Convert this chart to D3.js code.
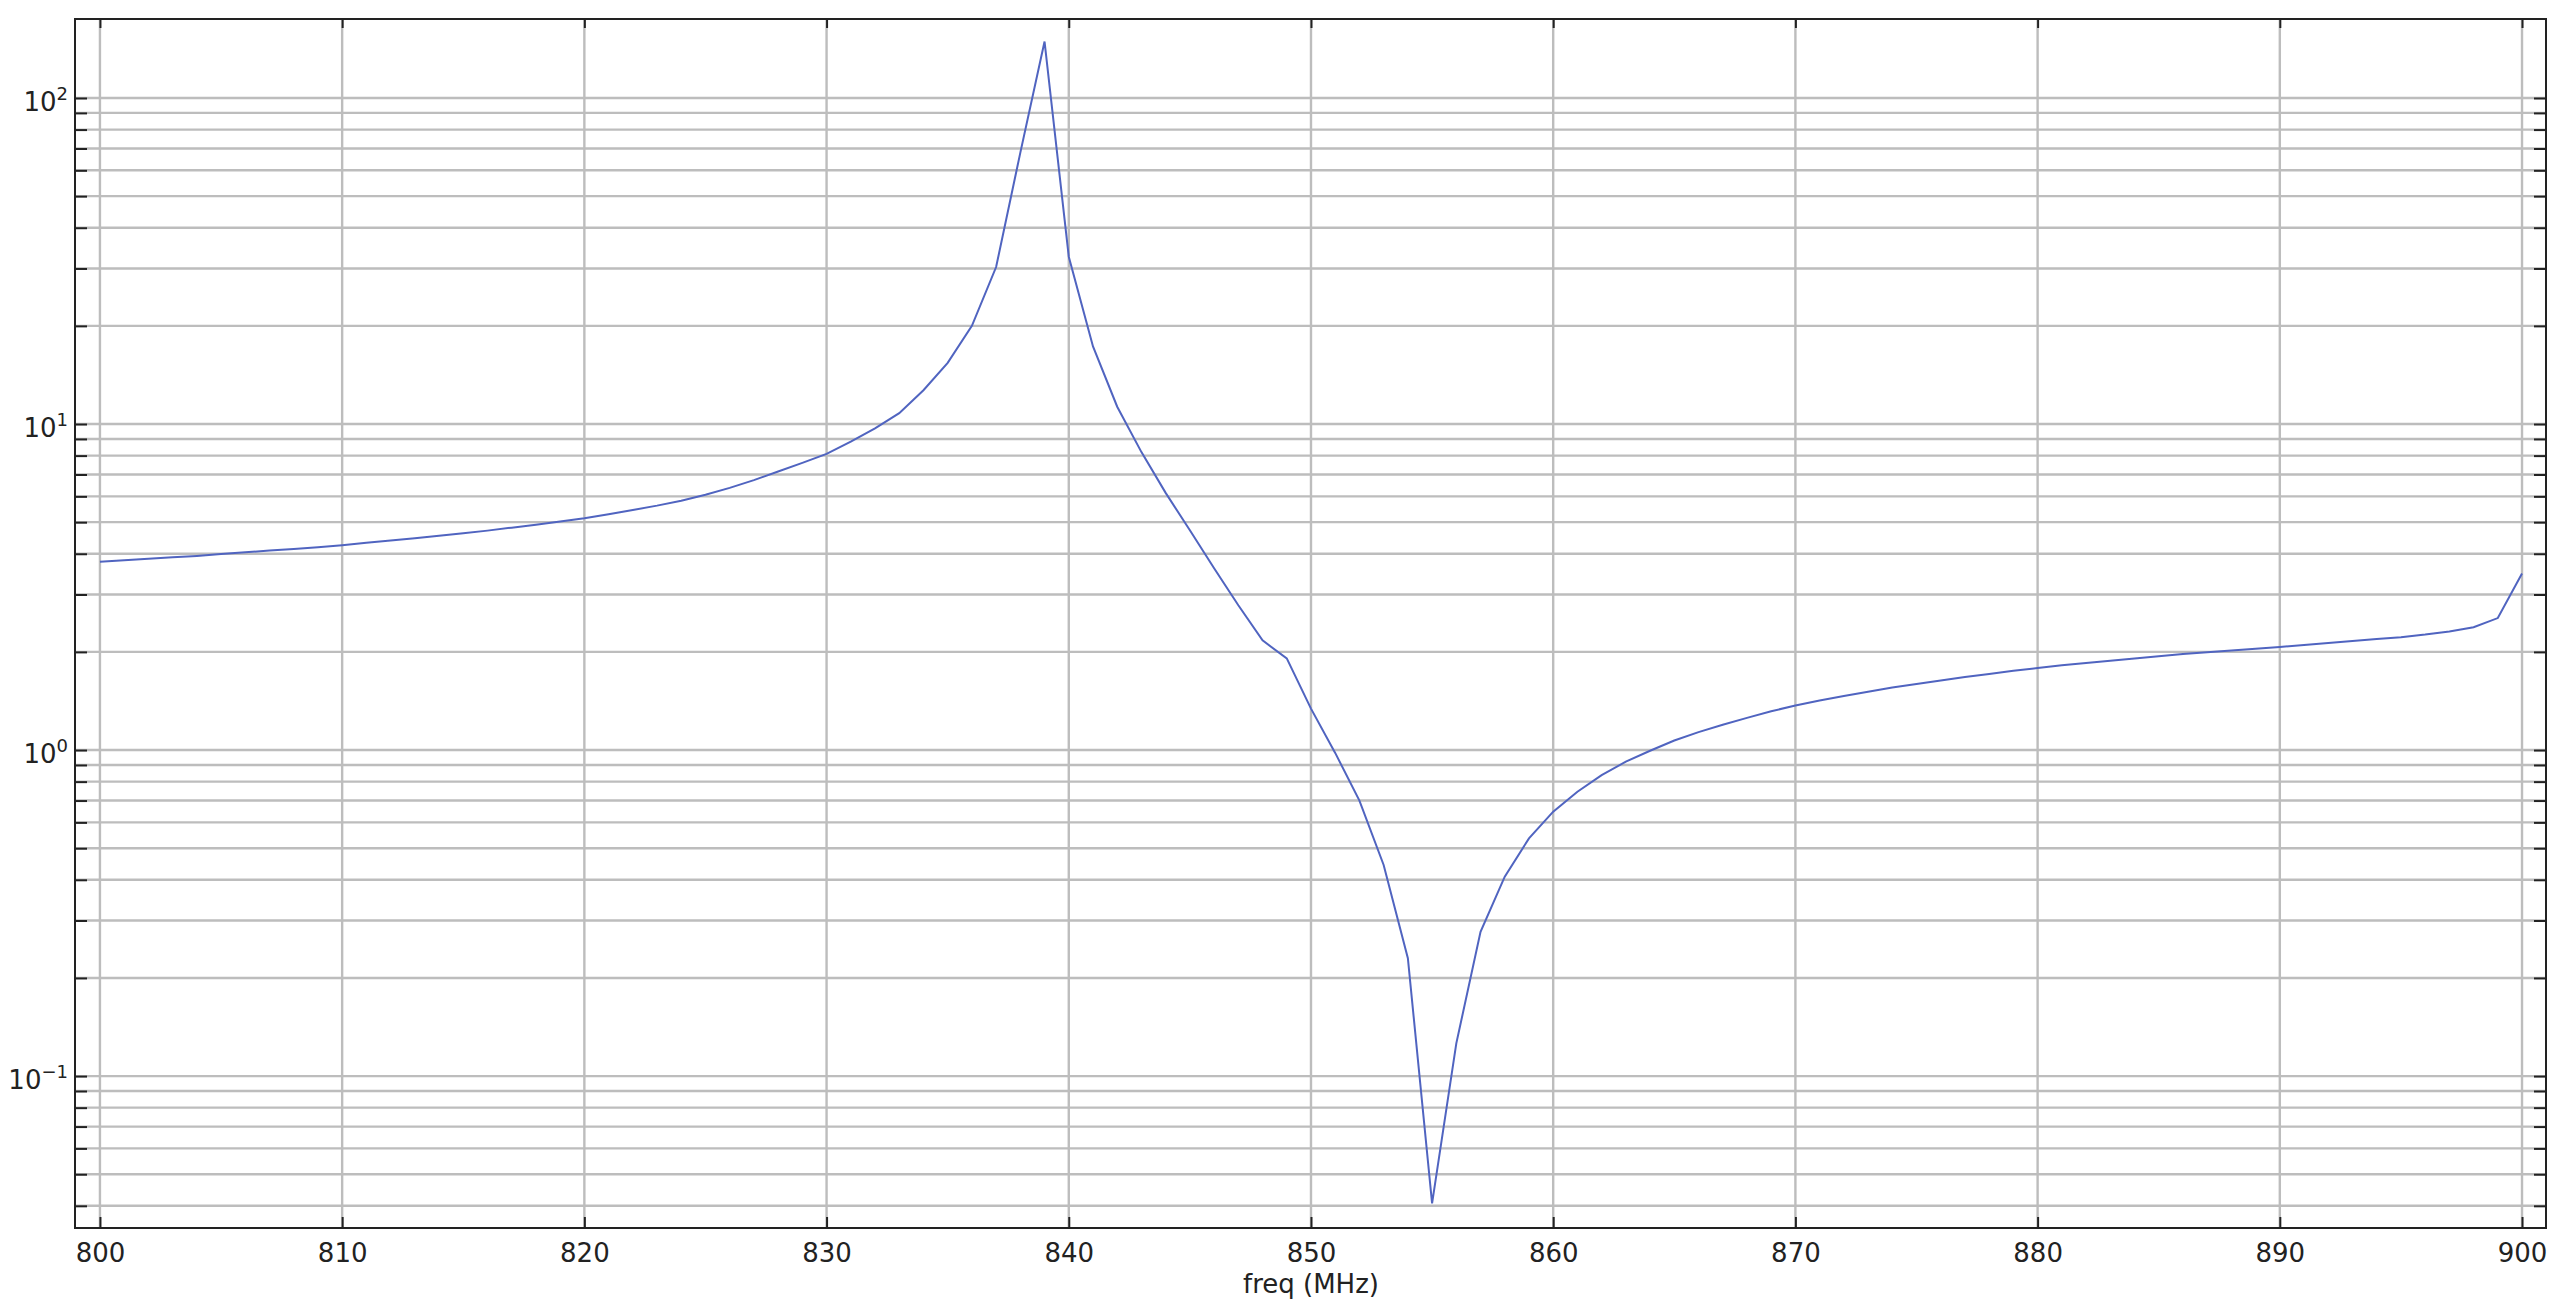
<!DOCTYPE html>
<html>
<head>
<meta charset="utf-8">
<script src="https://cdn.jsdelivr.net/npm/d3@7"></script>
<style>
  body { margin: 0; background: #fff; }
  text { font-family: "DejaVu Sans", sans-serif; fill: #222; }
</style>
</head>
<body>
<div id="chart"></div>
<script>
// frequency sweep (MHz) and response values
var freq = d3.range(800, 901, 1);
var values = [
  3.78, 3.82, 3.86, 3.90, 3.94, 3.99, 4.04, 4.09, 4.14, 4.19,
  4.25, 4.32, 4.39, 4.46, 4.54, 4.62, 4.71, 4.81, 4.91, 5.02,
  5.14, 5.29, 5.45, 5.62, 5.82, 6.07, 6.37, 6.73, 7.15, 7.60,
  8.10, 8.83, 9.70, 10.8, 12.7, 15.4, 20.0, 30.3, 68.0, 149,
  32.6, 17.3, 11.3, 8.20, 6.15, 4.72, 3.61, 2.78, 2.17, 1.91,
  1.34, 0.98, 0.70, 0.444, 0.23, 0.0407, 0.126, 0.277, 0.409, 0.536,
  0.647, 0.745, 0.838, 0.921, 0.995, 1.07, 1.135, 1.195, 1.255, 1.315,
  1.37, 1.42, 1.465, 1.51, 1.555, 1.595, 1.635, 1.675, 1.71, 1.75,
  1.785, 1.82, 1.85, 1.88, 1.91, 1.94, 1.97, 1.995, 2.02, 2.045,
  2.07, 2.10, 2.13, 2.16, 2.19, 2.22, 2.26, 2.31, 2.38, 2.54,
  3.48
];
var xTicks = [800, 810, 820, 830, 840, 850, 860, 870, 880, 890, 900];
var yMajor = [0.1, 1, 10, 100];
var yMinor = [0.04, 0.05, 0.06, 0.07, 0.08, 0.09,
  0.2, 0.3, 0.4, 0.5, 0.6, 0.7, 0.8, 0.9,
  2, 3, 4, 5, 6, 7, 8, 9,
  20, 30, 40, 50, 60, 70, 80, 90];
var xLabel = "freq (MHz)";

var svgWidth = 2567;
var svgHeight = 1307;
var margin = { top: 19, right: 21, bottom: 79, left: 75 };
var width = svgWidth - margin.left - margin.right;
var height = svgHeight - margin.top - margin.bottom;

var svg = d3.select("#chart")
  .append("svg")
  .attr("width", svgWidth)
  .attr("height", svgHeight);

var chartGroup = svg.append("g")
  .attr("transform", `translate(${margin.left}, ${margin.top})`);

var x = d3.scaleLinear()
  .domain([798.97, 900.99])
  .range([0, width]);

var y = d3.scaleLog()
  .domain([0.0342, 174.7])
  .range([height, 0]);

var yAll = yMinor.concat(yMajor).sort((a, b) => a - b);

// grid
chartGroup.append("g")
  .selectAll("line")
  .data(yAll)
  .enter()
  .append("line")
  .attr("x1", 0)
  .attr("x2", width)
  .attr("y1", d => y(d))
  .attr("y2", d => y(d))
  .attr("stroke", "#bdbdbd")
  .attr("stroke-width", 2.4);

chartGroup.append("g")
  .selectAll("line")
  .data(xTicks)
  .enter()
  .append("line")
  .attr("x1", d => x(d))
  .attr("x2", d => x(d))
  .attr("y1", 0)
  .attr("y2", height)
  .attr("stroke", "#bdbdbd")
  .attr("stroke-width", 2.4);

// curve
var line = d3.line()
  .x((d, i) => x(freq[i]))
  .y(d => y(d));

chartGroup.append("path")
  .datum(values)
  .attr("d", line)
  .attr("fill", "none")
  .attr("stroke", "#5064c0")
  .attr("stroke-width", 2);

// axes (inward ticks)
var bottomAxis = d3.axisBottom(x)
  .tickValues(xTicks)
  .tickSizeInner(-11)
  .tickSizeOuter(0)
  .tickPadding(16)
  .tickFormat(d3.format("d"));

var xAxis = chartGroup.append("g")
  .attr("transform", `translate(0, ${height})`)
  .call(bottomAxis);

xAxis.selectAll("text")
  .style("font-size", "26px")
  .attr("fill", "#222");

chartGroup.append("g")
  .call(d3.axisTop(x).tickValues(xTicks).tickSizeInner(-9).tickSizeOuter(0).tickFormat(""));

var leftAxis = d3.axisLeft(y)
  .tickValues(yAll)
  .tickSizeInner(-12)
  .tickSizeOuter(0)
  .tickPadding(7)
  .tickFormat("");

var yAxis = chartGroup.append("g").call(leftAxis);

chartGroup.append("g")
  .attr("transform", `translate(${width}, 0)`)
  .call(d3.axisRight(y).tickValues(yAll).tickSizeInner(-12).tickSizeOuter(0).tickFormat(""));

chartGroup.selectAll(".domain").remove();
chartGroup.selectAll(".tick line").attr("stroke", "#222").attr("stroke-width", 2);

// y labels as 10^n
var yLabels = chartGroup.append("g")
  .selectAll("text")
  .data(yMajor)
  .enter()
  .append("text")
  .attr("x", -7)
  .attr("y", d => y(d) + 13)
  .attr("text-anchor", "end")
  .style("font-size", "26px");

yLabels.append("tspan").text("10");
yLabels.append("tspan")
  .attr("dy", -11)
  .style("font-size", "18px")
  .text(d => {
    var e = Math.round(Math.log10(d));
    return e < 0 ? "\u2212" + (-e) : "" + e;
  });

// frame
chartGroup.append("rect")
  .attr("x", 0)
  .attr("y", 0)
  .attr("width", width)
  .attr("height", height)
  .attr("fill", "none")
  .attr("stroke", "#222")
  .attr("stroke-width", 2);

// x axis label
chartGroup.append("text")
  .attr("x", x(850))
  .attr("y", height + 65)
  .attr("text-anchor", "middle")
  .style("font-size", "26px")
  .text(xLabel);
</script>
</body>
</html>
